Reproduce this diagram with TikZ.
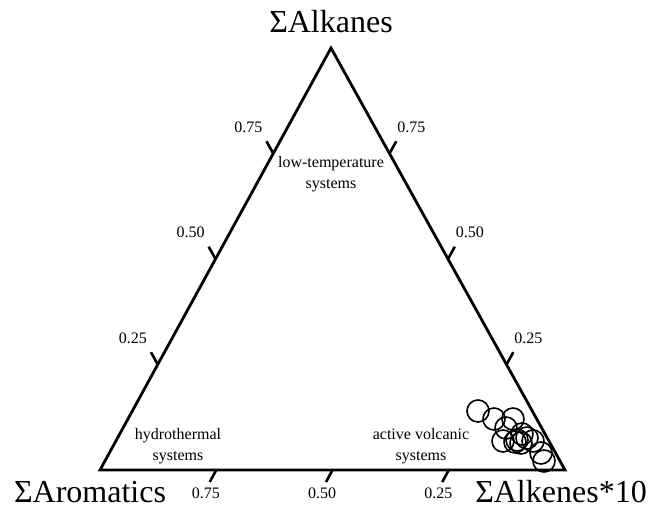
\documentclass[tikz,border=0pt]{standalone}
\usepackage{fontspec}
\setmainfont{Liberation Serif}
\usetikzlibrary{calc}
\begin{document}
\begin{tikzpicture}[x=1pt,y=-1pt,
  edge/.style={line width=2.8pt, line join=miter},
  tick/.style={line width=2.6pt},
  pt/.style={circle, draw, line width=1.6pt, minimum size=22pt, inner sep=0pt},
  big/.style={font=\fontsize{32}{36}\selectfont, inner sep=0pt},
  small/.style={font=\fontsize{16}{18}\selectfont, inner sep=0pt},
  region/.style={font=\fontsize{16}{21}\selectfont, align=center, inner sep=0pt}]
\useasboundingbox (0,0) rectangle (663,511);
\coordinate (T) at (331,48);
\coordinate (BL) at (100,470);
\coordinate (BR) at (565,470);
\draw[edge] (T) -- (BL) -- (BR) -- cycle;
\foreach \t/\lab in {0.25/0.25,0.5/0.50,0.75/0.75}{
  \coordinate (L) at ($(BL)!\t!(T)$);
  \coordinate (Le) at ($(L)+(-6.8,-12.3)$);
  \draw[tick] (L) -- (Le);
  \node[small] (ll\t) at ($(Le)+(-18,-14)$) {\lab};
  \coordinate (R) at ($(BR)!\t!(T)$);
  \coordinate (Re) at ($(R)+(6.8,-12.3)$);
  \draw[tick] (R) -- (Re);
  \node[small] (rl\t) at ($(Re)+(15,-14)$) {\lab};
}
\foreach \t/\lab in {0.25/0.75,0.5/0.50,0.75/0.25}{
  \coordinate (B) at ($(BL)!\t!(BR)$);
  \coordinate (Be) at ($(B)+(-6.5,12)$);
  \draw[tick] (B) -- (Be);
  \node[small] (bl\t) at ($(Be)+(-4,11)$) {\lab};
}
\node[big] (top) at (331,22) {ΣAlkanes};
\node[big] (left) at (90,492) {ΣAromatics};
\node[big] (right) at (561,492) {ΣAlkenes*10};
\node[region] (lt) at (331,174) {low-temperature\\systems};
\node[region] (hy) at (178,446) {hydrothermal\\systems};
\node[region] (av) at (421,446) {active volcanic\\systems};
\foreach \x/\y [count=\i] in {478/411, 494/419, 513/419, 506/428, 522/434, 503/441, 517/440, 521/443, 527/438, 533/441, 515/442, 541/453, 544/461}{
  \node[pt] (c\i) at (\x,\y) {};
}
\end{tikzpicture}
\end{document}
